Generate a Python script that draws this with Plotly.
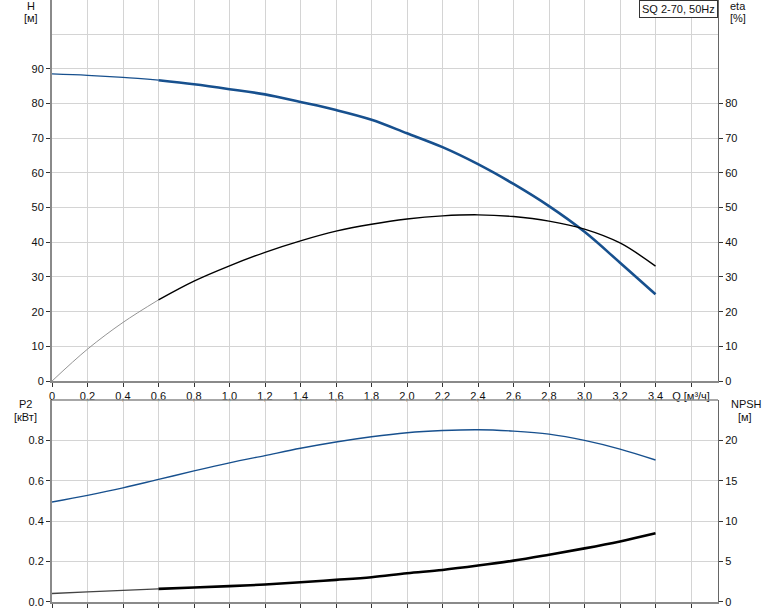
import plotly.graph_objects as go

# ---- data ----
Q = [0.0, 0.2, 0.4, 0.6, 0.8, 1.0, 1.2, 1.4, 1.6, 1.8, 2.0, 2.2, 2.4, 2.6, 2.8, 3.0, 3.2, 3.4]
H = [88.5, 88.1, 87.5, 86.7, 85.5, 84.1, 82.6, 80.4, 78.1, 75.3, 71.4, 67.4, 62.5, 56.8, 50.4, 43.0, 34.1, 25.0]
ETA = [0.0, 9.2, 16.9, 23.4, 28.8, 33.2, 37.1, 40.4, 43.2, 45.2, 46.7, 47.6, 47.9, 47.4, 46.1, 43.8, 39.8, 33.1]
P2 = [0.495, 0.528, 0.565, 0.607, 0.649, 0.689, 0.725, 0.761, 0.792, 0.818, 0.838, 0.849, 0.853, 0.846, 0.831, 0.800, 0.757, 0.703]
NPSH = [1.05, 1.25, 1.43, 1.63, 1.80, 1.96, 2.17, 2.45, 2.74, 3.07, 3.56, 3.97, 4.51, 5.12, 5.86, 6.64, 7.50, 8.50]

X_TICKS = [0, 0.2, 0.4, 0.6, 0.8, 1.0, 1.2, 1.4, 1.6, 1.8, 2.0, 2.2, 2.4, 2.6, 2.8, 3.0, 3.2, 3.4, 3.6]
X_LABELS = ["0", "0,2", "0,4", "0,6", "0,8", "1,0", "1,2", "1,4", "1,6", "1,8", "2,0",
            "2,2", "2,4", "2,6", "2,8", "3,0", "3,2", "3,4", "Q [м³/ч]"]
H_TICKS = [0, 10, 20, 30, 40, 50, 60, 70, 80, 90]
ETA_TICKS = [0, 10, 20, 30, 40, 50, 60, 70, 80]
P2_TICKS = [0.0, 0.2, 0.4, 0.6, 0.8]
P2_LABELS = ["0.0", "0.2", "0.4", "0.6", "0.8"]
NPSH_TICKS = [0, 5, 10, 15, 20]
TITLE = "SQ 2-70, 50Hz"

SPLIT = 3  # thin segment up to Q=0.6

BLUE = "#17508e"
FONT = "Liberation Sans, Arial, sans-serif"
GRID = "#d4d4d4"
AX = "#8a8a8a"

fig = go.Figure()

def seg(x, y, xa, ya, color, width):
    fig.add_trace(go.Scatter(x=x, y=y, xaxis=xa, yaxis=ya, mode="lines",
                             line=dict(color=color, width=width, shape="spline", smoothing=1.0),
                             showlegend=False, hoverinfo="skip"))

# top plot
seg(Q[:SPLIT + 1], H[:SPLIT + 1], "x", "y", BLUE, 1.2)
seg(Q[SPLIT:], H[SPLIT:], "x", "y", BLUE, 2.6)
seg(Q[:SPLIT + 1], ETA[:SPLIT + 1], "x", "y2", "#888888", 0.9)
seg(Q[SPLIT:], ETA[SPLIT:], "x", "y2", "#000000", 1.4)
# bottom plot
seg(Q, P2, "x2", "y3", BLUE, 1.4)
seg(Q[:SPLIT + 1], NPSH[:SPLIT + 1], "x2", "y4", "#444444", 1.3)
seg(Q[SPLIT:], NPSH[SPLIT:], "x2", "y4", "#000000", 2.6)

XR = [0, 3.752]
tickfont = dict(family=FONT, size=11, color="#111111")

xcommon = dict(range=XR, tickvals=X_TICKS, showgrid=True, gridcolor=GRID, gridwidth=1,
               zeroline=False, showline=True, linecolor=AX, linewidth=2, automargin=False,
               ticks="outside", ticklen=4, tickcolor="#333333", tickfont=tickfont)

fig.update_layout(
    width=774, height=611,
    margin=dict(l=52, r=56, t=0, b=9),
    paper_bgcolor="white", plot_bgcolor="white",
    font=dict(family=FONT, size=11, color="#111111"),
    xaxis=dict(**xcommon, domain=[0, 1], anchor="y", ticktext=X_LABELS),
    xaxis2=dict(**xcommon, domain=[0, 1], anchor="y3", showticklabels=False, ticktext=X_LABELS),
    yaxis=dict(domain=[0.367, 1], range=[0, 109.8], tickvals=H_TICKS, showgrid=True,
               gridcolor=GRID, zeroline=False, showline=True, linecolor=AX, linewidth=2,
               automargin=False, ticks="outside", ticklen=4, tickcolor="#333333", tickfont=tickfont,
               minor=dict(dtick=10, tick0=0, showgrid=True, gridcolor=GRID, ticks="")),
    yaxis2=dict(overlaying="y", side="right", anchor="x", range=[0, 109.8], tickvals=ETA_TICKS,
                showgrid=False, zeroline=False, showline=True, linecolor="#666666", linewidth=1,
                automargin=False, ticks="outside", ticklen=4, tickcolor="#333333", tickfont=tickfont),
    yaxis3=dict(domain=[0, 0.3355], anchor="x2", range=[0, 1.0], tickvals=P2_TICKS,
                ticktext=P2_LABELS, showgrid=True, gridcolor=GRID, zeroline=False,
                showline=True, linecolor=AX, linewidth=2, automargin=False,
                ticks="outside", ticklen=4, tickcolor="#333333", tickfont=tickfont),
    yaxis4=dict(overlaying="y3", side="right", anchor="x2", range=[0, 25], tickvals=NPSH_TICKS,
                showgrid=False, zeroline=False, showline=True, linecolor="#666666", linewidth=1,
                automargin=False, ticks="outside", ticklen=4, tickcolor="#333333", tickfont=tickfont),
)

# top border of bottom plot
fig.add_shape(type="line", xref="x2 domain", yref="y3 domain", x0=0, x1=1, y0=1, y1=1,
              line=dict(color=AX, width=1.5))

W, PH = 666.0, 602.0

def px(xp):
    return (xp - 52) / W

def py(yp):
    return (PH - yp) / PH

labels = [("H", 31, 6), ("[м]", 31, 18), ("eta", 738, 6), ("[%]", 738, 18),
          ("P2", 25, 404), ("[кВт]", 25, 417), ("NPSH", 746, 404), ("[м]", 745, 417)]
for txt, xp, yp in labels:
    fig.add_annotation(text=txt, x=px(xp), y=py(yp), xref="paper", yref="paper",
                       showarrow=False, xanchor="center", yanchor="middle",
                       font=dict(family=FONT, size=11, color="#111111"))

fig.add_annotation(text=TITLE, x=1, y=1, xref="paper", yref="paper", xanchor="right",
                   yanchor="top", showarrow=False, bgcolor="white", bordercolor="#333333",
                   borderwidth=1, borderpad=2, font=dict(family=FONT, size=11, color="#111111"))

fig.write_html("out.html", config={"displayModeBar": False},
               post_script="document.body.style.margin='0';")
